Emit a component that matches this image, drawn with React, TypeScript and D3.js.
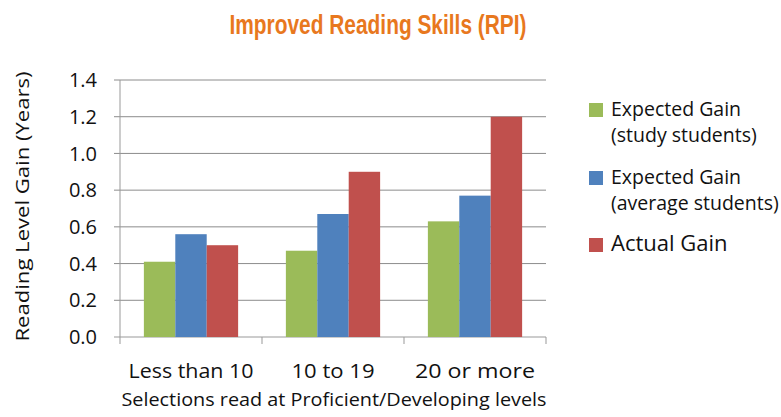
import React from 'react';
import * as d3 from 'd3';

const categories = ['Less than 10', '10 to 19', '20 or more'];
const seriesNames = ['Expected Gain (study students)', 'Expected Gain (average students)', 'Actual Gain'];
const legendLines = [['Expected Gain', '(study students)'], ['Expected Gain', '(average students)'], ['Actual Gain']];
const studyExpected = [0.41, 0.47, 0.63];
const averageExpected = [0.56, 0.67, 0.77];
const actualGain = [0.5, 0.9, 1.2];
const yTicks = [0, 0.2, 0.4, 0.6, 0.8, 1.0, 1.2, 1.4];
const colors = ['#9BBB59', '#4F81BD', '#C0504D'];

const W = 781;
const H = 417;
const margin = { top: 80, right: 235, bottom: 80, left: 120 };
const FONT = '"Open Sans", "Noto Sans", sans-serif';
// label widths in the original are a bit wider than Open Sans sets them
const catWidths = [125, 83, 120];

export default function App() {
  const series = [studyExpected, averageExpected, actualGain];
  const innerW = W - margin.left - margin.right;
  const innerH = H - margin.top - margin.bottom;

  const x = d3.scaleBand().domain(categories).range([0, innerW]).padding(0);
  const x1 = d3.scaleBand()
    .domain(seriesNames)
    .range([0, x.bandwidth()])
    .paddingInner(0)
    .paddingOuter(0.76);
  const y = d3.scaleLinear().domain([0, 1.4]).range([innerH, 0]);

  const bounds = [0, ...categories.map(c => (x(c) as number) + x.bandwidth())];

  return (
    <svg width={W} height={H} style={{ position: 'absolute', left: 0, top: 0, background: '#fff' }}>
      <text x={378} y={34} textAnchor="middle" fill="#E8781E" textLength={297} lengthAdjust="spacingAndGlyphs"
        style={{ font: 'bold 27px "Liberation Sans Narrow", "Arial Narrow", "Liberation Sans", sans-serif' }}>
        Improved Reading Skills (RPI)
      </text>

      <g transform={`translate(${margin.left},${margin.top})`}>
        {yTicks.map(t => (
          <g key={t}>
            <line x1={-6} x2={innerW} y1={y(t)} y2={y(t)}
              stroke={t === 0 ? '#999' : '#8c8c8c'} strokeWidth={1} />
            <text x={-23} y={y(t)} dy="0.36em" textAnchor="end" fontSize={20}
              fontFamily={FONT} fill="#111">{t.toFixed(1)}</text>
          </g>
        ))}
        <line x1={0} x2={0} y1={y(1.4)} y2={innerH} stroke="#999" />
        {bounds.map((b, i) => (
          <line key={i} x1={b} x2={b} y1={innerH} y2={innerH + 7} stroke="#999" />
        ))}

        {categories.map((c, ci) => (
          <g key={c} transform={`translate(${x(c)},0)`}>
            {series.map((vals, si) => (
              <rect key={si} x={x1(seriesNames[si])} y={y(vals[ci])}
                width={x1.bandwidth()} height={innerH - y(vals[ci])} fill={colors[si]} />
            ))}
            <text x={x.bandwidth() / 2} y={innerH + 41} textAnchor="middle" fontSize={19.5}
              textLength={catWidths[ci]} lengthAdjust="spacingAndGlyphs"
              fontFamily={FONT} fill="#111">{c}</text>
          </g>
        ))}

        <text x={innerW / 2 + 1} y={innerH + 69} textAnchor="middle" fontSize={18}
          textLength={425} lengthAdjust="spacingAndGlyphs"
          fontFamily={FONT} fill="#111">Selections read at Proficient/Developing levels</text>
        <text transform={`translate(${-91},${innerH / 2 - 2}) rotate(-90)`} textAnchor="middle"
          fontSize={19} textLength={270} lengthAdjust="spacingAndGlyphs"
          fontFamily={FONT} fill="#111">Reading Level Gain (Years)</text>
      </g>

      <g transform="translate(589,0)">
        {legendLines.map((lines, i) => {
          const top = [103, 171, 238][i];
          return (
            <g key={i}>
              <rect x={0} y={top} width={14} height={14} fill={colors[i]} />
              {lines.map((l, li) => (
                <text key={li} x={22} y={top + 13 + li * 26} fontSize={i === 2 ? 22 : 19.5}
                  fontFamily={FONT} fill="#111">{l}</text>
              ))}
            </g>
          );
        })}
      </g>
    </svg>
  );
}
